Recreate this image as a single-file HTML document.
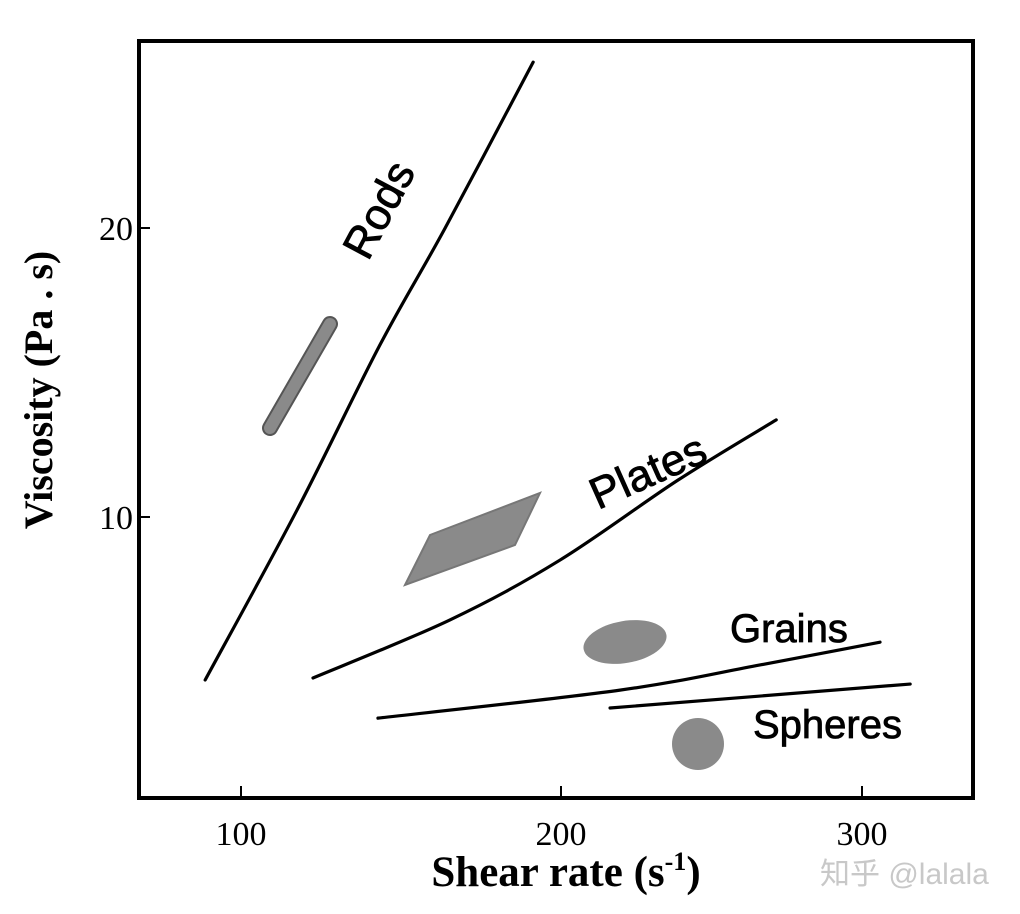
<!DOCTYPE html>
<html><head><meta charset="utf-8">
<style>
html,body{margin:0;padding:0;background:#fff;}
svg{display:block;}
</style></head>
<body>
<svg id="chart" width="1020" height="914" viewBox="0 0 1020 914" xmlns="http://www.w3.org/2000/svg">
<rect x="0" y="0" width="1020" height="914" fill="#fff"/>
<g id="marks"></g>
<rect x="139" y="41" width="834" height="757" fill="none" stroke="#000" stroke-width="4"/>
<g id="axes"></g>
<text x="0" y="0" transform="translate(52,390) rotate(-90)" text-anchor="middle" font-family="Liberation Serif, serif" font-weight="bold" font-size="40">Viscosity (Pa . s)</text>
<text x="566" y="886" text-anchor="middle" font-family="Liberation Serif, serif" font-weight="bold" font-size="43">Shear rate (s<tspan dy="-16" font-size="26">-1</tspan><tspan dy="16">)</tspan></text>
<text x="820" y="884" font-family="Liberation Sans, Noto Sans CJK SC, sans-serif" font-size="30" fill="#c8c8c8">知乎 @lalala</text>
<polygon points="405,585 430,535 540,493 515,545" fill="#8a8a8a" stroke="#777" stroke-width="2"/>
<line x1="270" y1="428" x2="330" y2="324" stroke="#555" stroke-width="16" stroke-linecap="round"/>
<line x1="270" y1="428" x2="330" y2="324" stroke="#8a8a8a" stroke-width="12" stroke-linecap="round"/>
<ellipse cx="625" cy="642" rx="42" ry="21" transform="rotate(-10 625 642)" fill="#8a8a8a"/>
<circle cx="698" cy="744" r="26" fill="#8a8a8a"/>
<text transform="translate(368,262) rotate(-62)" font-family="Liberation Sans, sans-serif" font-size="44" stroke="#000" stroke-width="0.8">Rods</text>
<text transform="translate(598,510) rotate(-24)" font-family="Liberation Sans, sans-serif" font-size="44" stroke="#000" stroke-width="0.8">Plates</text>
<text x="730" y="642" font-family="Liberation Sans, sans-serif" font-size="40" stroke="#000" stroke-width="0.8">Grains</text>
<text x="753" y="738" font-family="Liberation Sans, sans-serif" font-size="40" stroke="#000" stroke-width="0.8">Spheres</text>
</svg>
<script>
const xTickValues = [100, 200, 300];
const yTickValues = [10, 20];
const rodsX = [88.8, 117.5, 143.4, 163.8, 191.3];
const rodsY = [4.36, 10.24, 15.95, 20.0, 25.74];
const platesX = [122.5, 165.3, 199.7, 238.9, 271.5];
const platesY = [4.43, 6.44, 8.51, 11.28, 13.36];
const grainsX = [142.8, 219.6, 266.1, 306];
const grainsY = [3.04, 4.01, 4.88, 5.67];
const spheresX = [216.3, 316];
const spheresY = [3.39, 4.22];

const xKnotsV = [100, 200, 300], xKnotsP = [241, 561, 862];
function sx(v){
  let i = v < 200 ? 0 : 1;
  const t = (v - xKnotsV[i]) / (xKnotsV[i+1] - xKnotsV[i]);
  return xKnotsP[i] + t * (xKnotsP[i+1] - xKnotsP[i]);
}
function sy(v){ return 228 + (20 - v) * 28.9; }

const NS = "http://www.w3.org/2000/svg";
const axes = document.getElementById('axes');
const marks = document.getElementById('marks');
xTickValues.forEach(v => {
  const l = document.createElementNS(NS, 'line');
  l.setAttribute('x1', sx(v)); l.setAttribute('x2', sx(v));
  l.setAttribute('y1', 798); l.setAttribute('y2', 786);
  l.setAttribute('stroke', '#000'); l.setAttribute('stroke-width', 2);
  
  
  axes.appendChild(l);
  const t = document.createElementNS(NS, 'text');
  t.setAttribute('x', sx(v)); t.setAttribute('y', 845);
  t.setAttribute('text-anchor', 'middle');
  t.setAttribute('font-family', 'Liberation Serif, serif');
  t.setAttribute('font-size', '34');
  t.textContent = v;
  
  
  axes.appendChild(t);
});
yTickValues.forEach(v => {
  const l = document.createElementNS(NS, 'line');
  l.setAttribute('x1', 139); l.setAttribute('x2', 150);
  l.setAttribute('y1', sy(v)); l.setAttribute('y2', sy(v));
  l.setAttribute('stroke', '#000'); l.setAttribute('stroke-width', 2);
  
  
  axes.appendChild(l);
  const t = document.createElementNS(NS, 'text');
  t.setAttribute('x', 133); t.setAttribute('y', sy(v) + 12);
  t.setAttribute('text-anchor', 'end');
  t.setAttribute('font-family', 'Liberation Serif, serif');
  t.setAttribute('font-size', '34');
  t.textContent = v;
  
  
  axes.appendChild(t);
});
function drawLine(xs, ys, name){
  const P = xs.map((x,i) => [sx(x), sy(ys[i])]);
  let d = 'M' + P[0][0] + ',' + P[0][1];
  for (let i = 0; i < P.length - 1; i++) {
    const p0 = P[Math.max(i-1,0)], p1 = P[i], p2 = P[i+1], p3 = P[Math.min(i+2,P.length-1)];
    const c1 = [p1[0] + (p2[0]-p0[0])/6, p1[1] + (p2[1]-p0[1])/6];
    const c2 = [p2[0] - (p3[0]-p1[0])/6, p2[1] - (p3[1]-p1[1])/6];
    d += ' C' + c1[0] + ',' + c1[1] + ' ' + c2[0] + ',' + c2[1] + ' ' + p2[0] + ',' + p2[1];
  }
  const p = document.createElementNS(NS, 'path');
  p.setAttribute('d', d);
  p.setAttribute('fill', 'none'); p.setAttribute('stroke', '#000');
  p.setAttribute('stroke-width', 3.2); p.setAttribute('stroke-linecap', 'round');
  
  
  marks.appendChild(p);
}
drawLine(rodsX, rodsY, 'rods-line');
drawLine(platesX, platesY, 'plates-line');
drawLine(grainsX, grainsY, 'grains-line');
drawLine(spheresX, spheresY, 'spheres-line');
</script>
</body></html>
